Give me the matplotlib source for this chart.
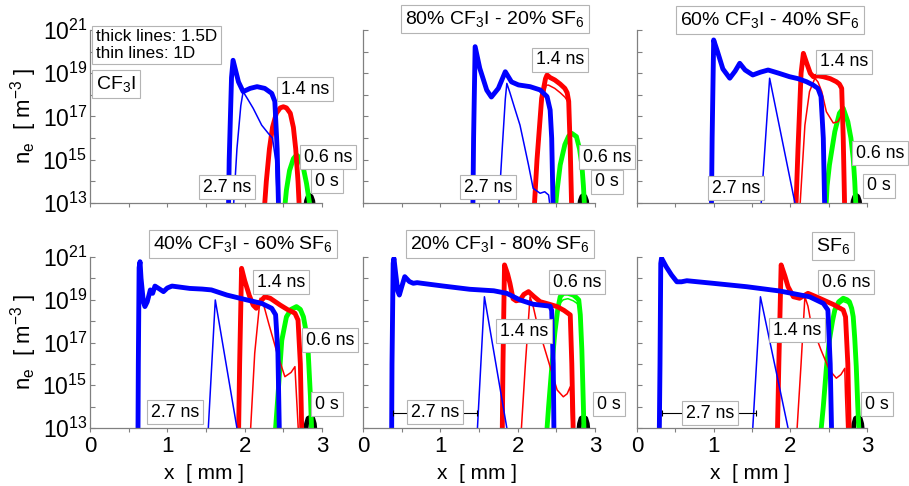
import math
import matplotlib
matplotlib.use('Agg')
import matplotlib.pyplot as plt
from matplotlib.ticker import FixedLocator, FuncFormatter

plt.rcParams['font.family'] = ['Liberation Sans', 'DejaVu Sans']
plt.rcParams['mathtext.fontset'] = 'custom'
plt.rcParams['mathtext.rm'] = 'Liberation Sans'
plt.rcParams['mathtext.it'] = 'Liberation Sans:italic'
plt.rcParams['mathtext.bf'] = 'Liberation Sans:bold'

# ---------------- data (x in mm, y as log10 of n_e in m^-3) ----------------
titles = ['CF$_3$I', '80% CF$_3$I - 20% SF$_6$', '60% CF$_3$I - 40% SF$_6$',
          '40% CF$_3$I - 60% SF$_6$', '20% CF$_3$I - 80% SF$_6$', 'SF$_6$']
time_labels = ['2.7 ns', '1.4 ns', '0.6 ns', '0 s']
x_ticks = [0, 1, 2, 3]
y_exponents = list(range(13, 22))

# Panel 1: CF3I
p1_blue_x = [1.79, 1.80, 1.83, 1.85, 1.92, 1.98, 2.07, 2.16, 2.26, 2.35, 2.39, 2.42, 2.44]
p1_blue_y = [12.5, 15.0, 18.8, 19.6, 18.6, 18.15, 18.3, 18.38, 18.3, 18.07, 17.7, 15.5, 12.5]
p1_bluet_x = [1.85, 1.90, 1.95, 1.98, 2.04, 2.11, 2.22, 2.31, 2.36, 2.40, 2.43]
p1_bluet_y = [12.5, 15.5, 17.5, 18.15, 17.8, 17.38, 16.6, 16.2, 16.0, 15.0, 12.5]
p1_red_x = [2.25, 2.28, 2.32, 2.36, 2.41, 2.46, 2.50, 2.54, 2.59, 2.63, 2.66, 2.69, 2.71]
p1_red_y = [12.5, 14.0, 15.5, 16.5, 17.15, 17.4, 17.45, 17.4, 17.15, 16.5, 15.5, 14.0, 12.5]
p1_redt_x = p1_red_x
p1_redt_y = [12.5, 14.0, 15.5, 16.45, 17.1, 17.35, 17.4, 17.35, 17.1, 16.45, 15.5, 14.0, 12.5]
p1_green_x = [2.51, 2.54, 2.58, 2.63, 2.67, 2.71, 2.76, 2.80, 2.83, 2.86]
p1_green_y = [12.5, 13.6, 14.5, 15.05, 15.22, 15.1, 14.6, 13.9, 13.2, 12.5]
p1_black_x = [2.78, 2.80, 2.82, 2.84, 2.86, 2.88, 2.90]
p1_black_y = [12.5, 13.1, 13.3, 13.35, 13.3, 13.1, 12.5]

# Panel 2: 80% CF3I - 20% SF6
p2_blue_x = [1.42, 1.43, 1.45, 1.51, 1.60, 1.66, 1.75, 1.84, 1.92, 2.01, 2.16, 2.29, 2.38, 2.42, 2.44, 2.46]
p2_blue_y = [12.5, 16.0, 20.23, 19.23, 18.22, 17.9, 18.3, 19.07, 18.6, 18.46, 18.38, 18.23, 17.92, 17.3, 16.0, 12.5]
p2_bluet_x = [1.75, 1.80, 1.84, 1.86, 1.90, 1.96, 2.03, 2.09, 2.14, 2.20, 2.29, 2.35, 2.40, 2.43]
p2_bluet_y = [12.5, 15.5, 17.8, 18.53, 18.1, 17.4, 16.6, 15.6, 14.76, 13.68, 13.45, 13.52, 13.37, 12.5]
p2_red_x = [2.21, 2.25, 2.31, 2.36, 2.38, 2.42, 2.48, 2.55, 2.61, 2.64, 2.66, 2.68, 2.70]
p2_red_y = [12.5, 15.0, 17.84, 18.75, 18.92, 18.8, 18.69, 18.5, 18.3, 18.1, 17.7, 15.5, 12.5]
p2_redt_x = [2.22, 2.26, 2.32, 2.37, 2.40, 2.48, 2.55, 2.61, 2.64, 2.66, 2.68, 2.70]
p2_redt_y = [12.5, 15.0, 17.7, 18.45, 18.45, 18.3, 18.1, 17.9, 17.75, 17.5, 15.5, 12.5]
p2_green_x = [2.48, 2.51, 2.55, 2.61, 2.66, 2.70, 2.76, 2.80, 2.83, 2.85, 2.87]
p2_green_y = [12.5, 13.6, 14.76, 15.7, 16.1, 16.22, 16.07, 15.5, 14.76, 13.8, 12.5]
p2_black_x = [2.79, 2.81, 2.83, 2.85, 2.87, 2.89, 2.91]
p2_black_y = [12.5, 13.1, 13.3, 13.35, 13.3, 13.1, 12.5]

# Panel 3: 60% CF3I - 40% SF6
p3_blue_x = [0.97, 0.98, 1.0, 1.05, 1.12, 1.21, 1.28, 1.34, 1.41, 1.51, 1.61, 1.71, 1.85, 1.99, 2.10, 2.21, 2.30, 2.36, 2.40, 2.43, 2.45]
p3_blue_y = [12.5, 16.0, 20.54, 20.0, 19.2, 18.77, 19.1, 19.46, 19.15, 18.92, 19.05, 19.15, 19.0, 18.84, 18.75, 18.61, 18.45, 18.3, 17.92, 16.0, 12.5]
p3_bluet_x = [1.62, 1.73, 2.06]
p3_bluet_y = [13.0, 18.77, 13.0]
p3_red_x = [2.07, 2.10, 2.14, 2.17, 2.21, 2.26, 2.30, 2.36, 2.43, 2.52, 2.60, 2.64, 2.67, 2.69, 2.71]
p3_red_y = [12.5, 15.5, 19.0, 19.92, 19.5, 19.0, 18.84, 18.88, 18.84, 18.75, 18.61, 18.5, 18.3, 16.0, 12.5]
p3_redt_x = [2.12, 2.19, 2.25, 2.32, 2.36, 2.41, 2.47, 2.56, 2.62, 2.67, 2.69, 2.71]
p3_redt_y = [12.5, 16.6, 18.15, 18.77, 18.6, 18.15, 17.22, 16.7, 16.76, 17.07, 15.5, 12.5]
p3_green_x = [2.46, 2.48, 2.51, 2.58, 2.64, 2.69, 2.75, 2.79, 2.82, 2.84, 2.86]
p3_green_y = [12.5, 13.8, 14.76, 16.3, 17.15, 17.38, 16.76, 16.0, 15.07, 14.0, 12.5]
p3_black_x = [2.80, 2.82, 2.84, 2.86, 2.88, 2.90, 2.92]
p3_black_y = [12.5, 13.1, 13.3, 13.35, 13.3, 13.1, 12.5]

# Panel 4: 40% CF3I - 60% SF6
p4_blue_x = [0.62, 0.625, 0.635, 0.647, 0.66, 0.69, 0.71, 0.74, 0.78, 0.81, 0.84, 0.90, 0.95, 1.00, 1.06, 1.29, 1.45, 1.57, 1.77, 2.03, 2.22, 2.35, 2.40, 2.43, 2.45]
p4_blue_y = [12.5, 16.0, 20.5, 20.78, 20.0, 18.9, 18.68, 18.9, 19.46, 19.3, 19.64, 19.5, 19.38, 19.55, 19.64, 19.53, 19.5, 19.46, 19.22, 18.99, 18.83, 18.6, 18.3, 16.5, 12.5]
p4_bluet_x = [1.53, 1.62, 1.90]
p4_bluet_y = [13.0, 18.99, 13.0]
p4_red_x = [1.92, 1.935, 1.96, 2.00, 2.06, 2.11, 2.15, 2.20, 2.26, 2.33, 2.46, 2.55, 2.65, 2.69, 2.72, 2.74]
p4_red_y = [12.5, 16.0, 20.47, 19.9, 19.2, 18.75, 18.6, 18.9, 19.14, 19.07, 18.75, 18.55, 18.37, 18.05, 16.0, 12.5]
p4_redt_x = [2.07, 2.13, 2.20, 2.25, 2.31, 2.42, 2.52, 2.60, 2.65, 2.67, 2.70]
p4_redt_y = [12.5, 16.5, 19.07, 18.7, 17.9, 16.5, 15.4, 15.6, 15.87, 14.5, 12.5]
p4_green_x = [2.39, 2.43, 2.48, 2.54, 2.60, 2.67, 2.72, 2.76, 2.80, 2.82, 2.85, 2.87]
p4_green_y = [12.5, 14.5, 17.1, 18.2, 18.55, 18.68, 18.55, 18.2, 17.4, 16.65, 14.5, 12.5]
p4_greent_y = [12.5, 14.5, 17.0, 18.1, 18.45, 18.58, 18.45, 18.1, 17.3, 16.55, 14.5, 12.5]
p4_black_x = [2.78, 2.80, 2.82, 2.85, 2.88, 2.90, 2.92]
p4_black_y = [12.5, 13.2, 13.45, 13.5, 13.45, 13.2, 12.5]

# Panel 5: 20% CF3I - 80% SF6
p5_blue_x = [0.37, 0.375, 0.39, 0.40, 0.42, 0.45, 0.47, 0.50, 0.54, 0.60, 0.65, 0.70, 0.76, 1.04, 1.38, 1.69, 1.86, 2.03, 2.20, 2.42, 2.44, 2.46, 2.47]
p5_blue_y = [12.5, 16.0, 20.7, 20.94, 20.3, 19.4, 19.22, 19.6, 20.08, 19.85, 19.77, 19.8, 19.77, 19.64, 19.49, 19.42, 19.3, 18.99, 18.79, 18.7, 18.5, 16.0, 12.5]
p5_bluet_x = [1.48, 1.57, 1.86]
p5_bluet_y = [13.0, 19.14, 13.0]
p5_red_x = [1.80, 1.81, 1.83, 1.87, 1.90, 1.94, 1.98, 2.03, 2.08, 2.14, 2.21, 2.29, 2.40, 2.51, 2.60, 2.68, 2.70, 2.72]
p5_red_y = [12.5, 16.0, 20.63, 20.2, 19.77, 19.05, 18.95, 18.99, 19.25, 19.38, 19.15, 18.91, 18.8, 18.68, 18.5, 18.29, 16.0, 12.5]
p5_redt_x = [2.04, 2.10, 2.16, 2.20, 2.25, 2.38, 2.51, 2.59, 2.64, 2.68, 2.69, 2.71]
p5_redt_y = [12.5, 16.0, 19.14, 18.7, 17.9, 16.34, 14.78, 14.46, 14.6, 14.93, 14.0, 12.5]
p5_green_x = [2.37, 2.40, 2.44, 2.48, 2.52, 2.55, 2.59, 2.65, 2.72, 2.76, 2.79, 2.81, 2.83, 2.85, 2.86]
p5_green_y = [12.5, 14.0, 15.8, 17.43, 18.6, 19.14, 19.3, 19.3, 19.22, 19.1, 18.99, 18.3, 16.65, 14.0, 12.5]
p5_greent_y = [12.5, 14.0, 15.7, 17.3, 18.4, 18.85, 19.0, 19.05, 18.95, 18.85, 18.75, 18.1, 16.5, 14.0, 12.5]
p5_black_x = [2.78, 2.80, 2.82, 2.85, 2.88, 2.90, 2.92]
p5_black_y = [12.5, 13.2, 13.45, 13.5, 13.45, 13.2, 12.5]

# Panel 6: SF6
p6_blue_x = [0.29, 0.30, 0.31, 0.32, 0.38, 0.45, 0.52, 0.58, 0.65, 0.99, 1.43, 1.86, 2.25, 2.43, 2.49, 2.52, 2.54]
p6_blue_y = [12.5, 16.0, 20.7, 20.95, 20.55, 20.16, 19.84, 19.84, 19.89, 19.77, 19.61, 19.41, 19.14, 18.83, 18.52, 16.0, 12.5]
p6_bluet_x = [1.51, 1.61, 1.97]
p6_bluet_y = [13.0, 19.14, 13.0]
p6_red_x = [1.83, 1.85, 1.88, 1.93, 1.97, 2.04, 2.12, 2.23, 2.33, 2.43, 2.56, 2.69, 2.72, 2.75, 2.77]
p6_red_y = [12.5, 16.0, 20.63, 20.1, 19.61, 19.14, 19.07, 19.3, 19.15, 18.99, 18.78, 18.52, 18.2, 16.0, 12.5]
p6_redt_x = [2.08, 2.14, 2.19, 2.23, 2.27, 2.40, 2.51, 2.60, 2.66, 2.71, 2.72, 2.74]
p6_redt_y = [12.5, 16.0, 19.14, 18.7, 17.9, 16.65, 15.71, 15.33, 15.5, 15.79, 14.5, 12.5]
p6_green_x = [2.39, 2.43, 2.47, 2.51, 2.55, 2.58, 2.63, 2.69, 2.74, 2.77, 2.80, 2.82, 2.84, 2.86, 2.88, 2.90]
p6_green_y = [12.5, 14.0, 15.8, 17.12, 18.0, 18.52, 18.9, 19.07, 19.0, 18.91, 18.6, 18.21, 17.2, 15.87, 14.0, 12.5]
p6_greent_y = [12.5, 14.0, 15.7, 17.0, 17.85, 18.35, 18.75, 18.92, 18.85, 18.76, 18.45, 18.05, 17.05, 15.75, 14.0, 12.5]
p6_black_x = [2.81, 2.83, 2.85, 2.88, 2.91, 2.93, 2.95]
p6_black_y = [12.5, 13.2, 13.45, 13.5, 13.45, 13.2, 12.5]

# dimension lines for "2.7 ns" (start x, end x, log10 y)
p5_dim = [0.39, 1.47, 13.7]
p6_dim = [0.32, 1.55, 13.7]

panels = [
    dict(blue=(p1_blue_x, p1_blue_y), bluet=(p1_bluet_x, p1_bluet_y), red=(p1_red_x, p1_red_y),
         redt=(p1_redt_x, p1_redt_y), green=(p1_green_x, p1_green_y), greent=(p1_green_x, p1_green_y),
         black=(p1_black_x, p1_black_y), dim=None),
    dict(blue=(p2_blue_x, p2_blue_y), bluet=(p2_bluet_x, p2_bluet_y), red=(p2_red_x, p2_red_y),
         redt=(p2_redt_x, p2_redt_y), green=(p2_green_x, p2_green_y), greent=(p2_green_x, p2_green_y),
         black=(p2_black_x, p2_black_y), dim=None),
    dict(blue=(p3_blue_x, p3_blue_y), bluet=(p3_bluet_x, p3_bluet_y), red=(p3_red_x, p3_red_y),
         redt=(p3_redt_x, p3_redt_y), green=(p3_green_x, p3_green_y), greent=(p3_green_x, p3_green_y),
         black=(p3_black_x, p3_black_y), dim=None),
    dict(blue=(p4_blue_x, p4_blue_y), bluet=(p4_bluet_x, p4_bluet_y), red=(p4_red_x, p4_red_y),
         redt=(p4_redt_x, p4_redt_y), green=(p4_green_x, p4_green_y), greent=(p4_green_x, p4_greent_y),
         black=(p4_black_x, p4_black_y), dim=None),
    dict(blue=(p5_blue_x, p5_blue_y), bluet=(p5_bluet_x, p5_bluet_y), red=(p5_red_x, p5_red_y),
         redt=(p5_redt_x, p5_redt_y), green=(p5_green_x, p5_green_y), greent=(p5_green_x, p5_greent_y),
         black=(p5_black_x, p5_black_y), dim=p5_dim),
    dict(blue=(p6_blue_x, p6_blue_y), bluet=(p6_bluet_x, p6_bluet_y), red=(p6_red_x, p6_red_y),
         redt=(p6_redt_x, p6_redt_y), green=(p6_green_x, p6_green_y), greent=(p6_green_x, p6_greent_y),
         black=(p6_black_x, p6_black_y), dim=p6_dim),
]

# ---------------- layout (pixels) ----------------
W, H = 909, 486
col_left = [90, 363, 637]
col_width = [232, 232, 230]
row_top = [30, 257]
row_bot = [203, 428]

# label centres in pixels: title, 2.7 ns, 1.4 ns, 0.6 ns, 0 s
label_pos = [
    dict(title=(116, 84), t27=(227, 187), t14=(305, 89), t06=(328, 157), t0=(327, 181)),
    dict(title=(495, 19), t27=(488, 187), t14=(560, 60), t06=(607, 157), t0=(607, 182)),
    dict(title=(770, 20), t27=(736, 188), t14=(844, 62), t06=(880, 153), t0=(879, 186)),
    dict(title=(243, 244), t27=(175, 412), t14=(281, 282), t06=(330, 340), t0=(327, 404)),
    dict(title=(500, 244), t27=(435, 412), t14=(524, 331), t06=(577, 282), t0=(609, 404)),
    dict(title=(833, 246), t27=(710, 413), t14=(797, 330), t06=(846, 282), t0=(877, 404)),
]

fig = plt.figure(figsize=(W / 100, H / 100), dpi=100)
spine_col = '#808080'
box = dict(boxstyle='square,pad=0.22', fc='white', ec='#b4b4b4', lw=0.8)


def fx(px):
    return px / W


def fy(py):
    return 1 - py / H


def ylab(v, pos):
    e = int(round(math.log10(v)))
    return ('10$^{%d}$' % e) if e % 2 == 1 else ''


TH, TN = 3.5, 1.1

for i, p in enumerate(panels):
    r, c = divmod(i, 3)
    ax = fig.add_axes([fx(col_left[c]), fy(row_bot[r]), col_width[c] / W,
                       (row_bot[r] - row_top[r]) / H])
    ax.set_yscale('log')
    ax.set_xlim(0, 3)
    ax.set_ylim(1e13, 1e21)
    for s in ['top', 'right']:
        ax.spines[s].set_visible(False)
    for s in ['left', 'bottom']:
        ax.spines[s].set_color(spine_col)
        ax.spines[s].set_linewidth(0.9)

    def P(xy):
        return xy[0], [10 ** v for v in xy[1]]

    ax.plot(*P(p['black']), color='black', lw=TH, solid_capstyle='butt')
    ax.plot(*P(p['green']), color='#00ff00', lw=TH)
    ax.plot(*P(p['greent']), color='#00ff00', lw=TN)
    ax.plot(*P(p['red']), color='#ff0000', lw=TH)
    ax.plot(*P(p['redt']), color='#ff0000', lw=TN)
    ax.plot(*P(p['blue']), color='#0000ff', lw=TH)
    ax.plot(*P(p['bluet']), color='#0000ff', lw=TN)

    if p['dim'] is not None:
        x0, x1, ly = p['dim']
        ax.plot([x0, x1], [10 ** ly, 10 ** ly], color='black', lw=0.8)
        ax.plot([x0, x1], [10 ** ly, 10 ** ly], ls='none', marker='|', ms=4,
                color='black', mew=0.8)

    ax.yaxis.set_major_locator(FixedLocator([10.0 ** e for e in y_exponents]))
    ax.yaxis.set_minor_locator(FixedLocator([]))
    ax.xaxis.set_major_locator(FixedLocator(x_ticks))
    ax.xaxis.set_minor_locator(FixedLocator([0.5, 1.5, 2.5]))
    ax.tick_params(axis='y', which='both', direction='in', length=3.5, width=0.8,
                   color=spine_col, labelsize=16.5, pad=2)
    ax.tick_params(axis='x', which='both', direction='out', length=3, width=0.8,
                   color=spine_col, labelsize=16, pad=3)
    if c == 0:
        ax.yaxis.set_major_formatter(FuncFormatter(ylab))
    else:
        ax.set_yticklabels([])
    if r == 0:
        ax.set_xticklabels([])
    else:
        ax.set_xticklabels([str(t) for t in x_ticks])
        fig.text(fx(col_left[c] + col_width[c] / 2 - 2), fy(473), 'x  [ mm ]',
                 ha='center', va='center', fontsize=15)

    lp = label_pos[i]
    fig.text(fx(lp['title'][0]), fy(lp['title'][1]), titles[i], ha='center', va='center',
             fontsize=14, bbox=box, zorder=10)
    for key, txt in zip(['t27', 't14', 't06', 't0'], time_labels):
        fig.text(fx(lp[key][0]), fy(lp[key][1]), txt, ha='center', va='center',
                 fontsize=12.8, bbox=box, zorder=10)

fig.text(fx(96), fy(45), 'thick lines: 1.5D\nthin lines: 1D', ha='left', va='center',
         fontsize=12.3, linespacing=1.1, bbox=box, zorder=10)

for yc in [116, 342]:
    fig.text(fx(24), fy(yc), r'n$_\mathrm{e}$  [ m$^{-3}$ ]', rotation=90, ha='center',
             va='center', fontsize=16)

fig.savefig('out.png', dpi=100)
